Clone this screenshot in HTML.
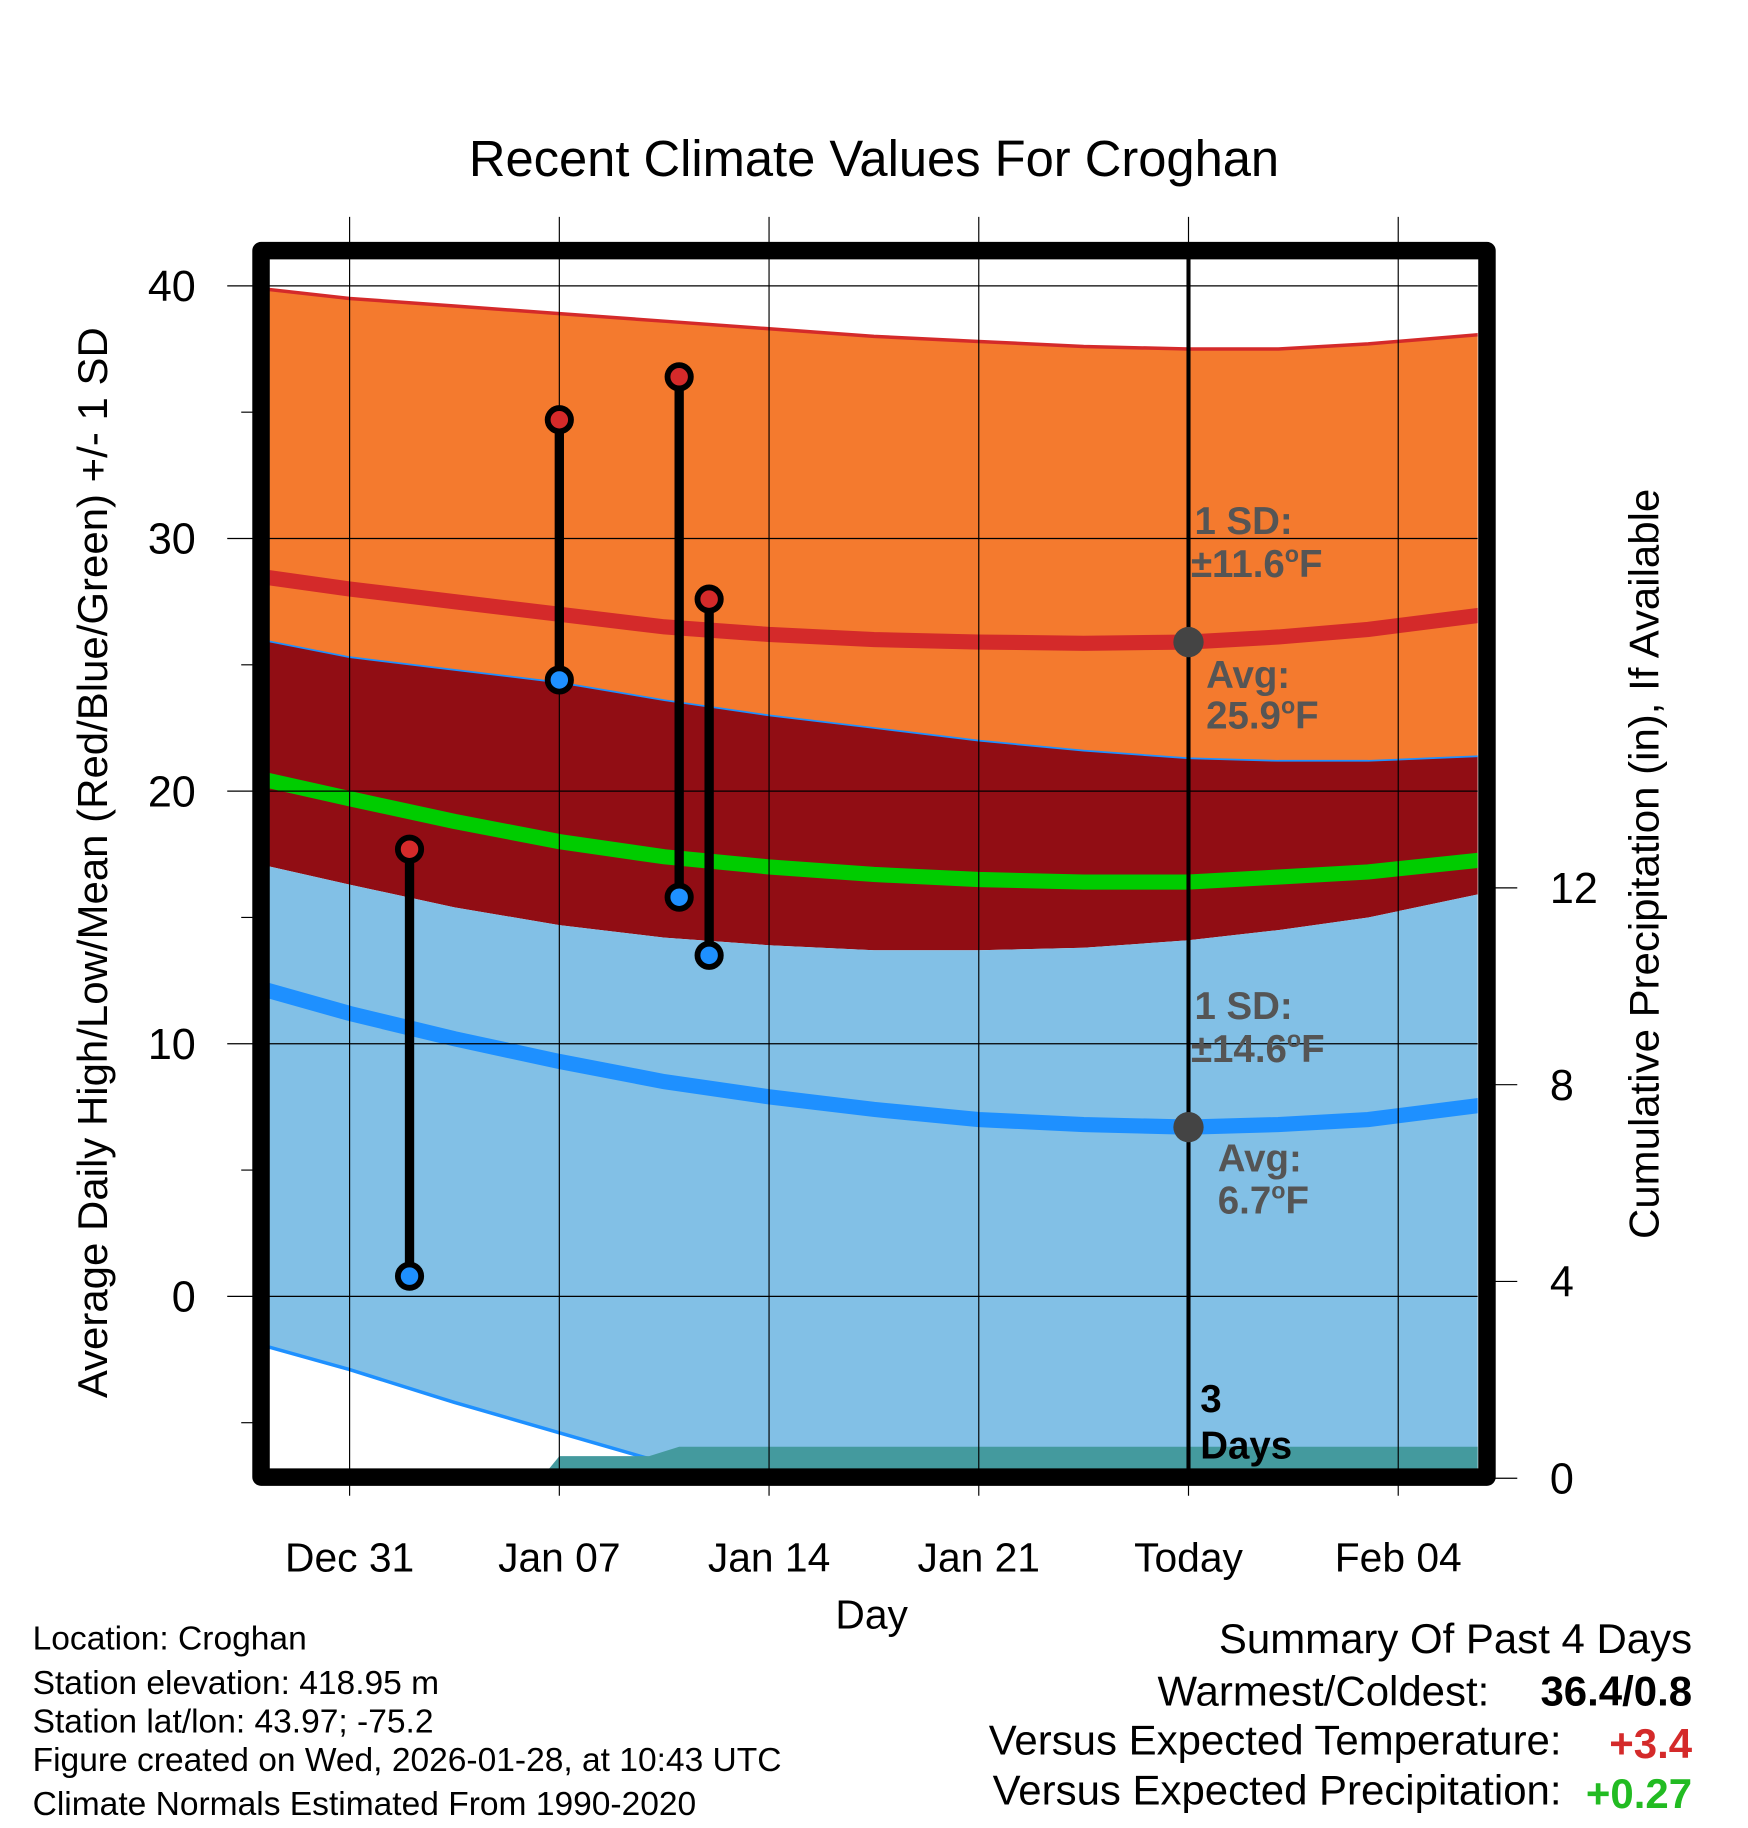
<!DOCTYPE html>
<html><head><meta charset="utf-8"><style>
html,body{margin:0;padding:0;background:#fff;}
svg{display:block;font-family:"Liberation Sans",Arial,sans-serif;}
</style></head><body>
<svg id="chart" width="1748" height="1828" viewBox="0 0 1500 1568" preserveAspectRatio="none" xmlns="http://www.w3.org/2000/svg">
<defs><clipPath id="plotclip"><rect x="231" y="216" width="1037" height="1044"/></clipPath></defs>
<text x="750" y="151" font-size="43.5" text-anchor="middle">Recent Climate Values For Croghan</text>
<g id="bands" clip-path="url(#plotclip)"></g>
<g id="grid"></g>
<g id="marks"></g>
<g id="labels" font-weight="bold" font-size="33" fill="#555">
<text x="1025" y="458">1 SD:</text>
<text x="1022" y="495">±11.6<tspan font-size="20" dy="-13">o</tspan><tspan dy="13">F</tspan></text>
<text x="1035" y="590">Avg:</text>
<text x="1035" y="625">25.9<tspan font-size="20" dy="-13">o</tspan><tspan dy="13">F</tspan></text>
<text x="1025" y="874">1 SD:</text>
<text x="1022" y="911">±14.6<tspan font-size="20" dy="-13">o</tspan><tspan dy="13">F</tspan></text>
<text x="1045" y="1005">Avg:</text>
<text x="1045" y="1041">6.7<tspan font-size="20" dy="-13">o</tspan><tspan dy="13">F</tspan></text>
<text x="1030" y="1211" fill="#000">3</text>
<text x="1030" y="1251" fill="#000">Days</text>
</g>
<rect x="224" y="215" width="1052" height="1052" fill="none" stroke="#000" stroke-width="15" stroke-linejoin="round"/>
<text transform="translate(92,740) rotate(-90)" font-size="36" text-anchor="middle">Average Daily High/Low/Mean (Red/Blue/Green) +/- 1 SD</text>
<text transform="translate(1423,741) rotate(-90)" font-size="36" text-anchor="middle">Cumulative Precipitation (in), If Available</text>
<text x="748" y="1397" font-size="35" text-anchor="middle">Day</text>
<g font-size="28.8">
<text x="28" y="1415">Location: Croghan</text>
<text x="28" y="1453">Station elevation: 418.95 m</text>
<text x="28" y="1486">Station lat/lon: 43.97; -75.2</text>
<text x="28" y="1519">Figure created on Wed, 2026-01-28, at 10:43 UTC</text>
<text x="28" y="1557">Climate Normals Estimated From 1990-2020</text>
</g>
<g font-size="36" text-anchor="end">
<text x="1452" y="1418">Summary Of Past 4 Days</text>
<text x="1278" y="1463">Warmest/Coldest:</text>
<text x="1452" y="1463" font-weight="bold">36.4/0.8</text>
<text x="1340" y="1505">Versus Expected Temperature:</text>
<text x="1452" y="1508" font-weight="bold" fill="#d42a2a">+3.4</text>
<text x="1340" y="1548">Versus Expected Precipitation:</text>
<text x="1452" y="1551" font-weight="bold" fill="#22bb22">+0.27</text>
</g>
</svg>
<script>
const days = [-3, 0, 3.5, 7, 10.5, 14, 17.5, 21, 24.5, 28, 31, 34, 38];
const highUpper = [39.9, 39.5, 39.2, 38.9, 38.6, 38.3, 38.0, 37.8, 37.6, 37.5, 37.5, 37.7, 38.1];
const highAvg = [28.5, 28.0, 27.5, 27.0, 26.5, 26.2, 26.0, 25.9, 25.85, 25.9, 26.1, 26.4, 27.0];
const highLower = [26.0, 25.3, 24.8, 24.3, 23.6, 23.0, 22.5, 22.0, 21.6, 21.3, 21.2, 21.2, 21.4];
const meanAvg = [20.5, 19.7, 18.8, 18.0, 17.4, 17.0, 16.7, 16.5, 16.4, 16.4, 16.6, 16.8, 17.3];
const lowUpper = [17.1, 16.3, 15.4, 14.7, 14.2, 13.9, 13.7, 13.7, 13.8, 14.1, 14.5, 15.0, 16.0];
const lowAvg = [12.2, 11.2, 10.2, 9.3, 8.5, 7.9, 7.4, 7.0, 6.8, 6.7, 6.8, 7.0, 7.6];
const lowLower = [-1.9, -2.9, -4.2, -5.4, -6.6, -7.6, -8.5, -9.2, -9.8, -10, -10, -10, -10];
const precipDays = [-3, 6.4, 7, 10, 11, 38];
const precipVals = [0, 0, 0.45, 0.45, 0.64, 0.64];
const obsDays = [2, 7, 11, 12];
const obsHigh = [17.7, 34.7, 36.4, 27.6];
const obsLow = [0.8, 24.4, 15.8, 13.5];
const xTickDays = [0, 7, 14, 21, 28, 35];
const xTickLabels = ["Dec 31", "Jan 07", "Jan 14", "Jan 21", "Today", "Feb 04"];
const yTicks = [0, 10, 20, 30, 40];
const y2Ticks = [0, 4, 8, 12];
const todayDay = 28;

const NS = "http://www.w3.org/2000/svg";
const X = d => 300 + d * 25.71;
const Y = v => 1112 - v * 21.67;
const Y2 = v => 1268 - v * 42.2;
function mk(tag, attrs, parent) {
  const e = document.createElementNS(NS, tag);
  for (const k in attrs) e.setAttribute(k, attrs[k]);
  parent.appendChild(e);
  return e;
}
function line(arr) { return days.map((d, i) => (i ? "L" : "M") + X(d).toFixed(1) + "," + Y(arr[i]).toFixed(1)).join(""); }
function band(top, bot) {
  let p = line(top);
  for (let i = days.length - 1; i >= 0; i--) p += "L" + X(days[i]).toFixed(1) + "," + Y(bot[i]).toFixed(1);
  return p + "Z";
}
const bands = document.getElementById("bands");
const grid = document.getElementById("grid");
const marks = document.getElementById("marks");

let e;
e = mk("path", {d: band(highUpper, highLower), fill: "#f47a2e"}, bands);
 
e = mk("path", {d: band(highLower, lowUpper), fill: "#910d14"}, bands);
 
e = mk("path", {d: band(lowUpper, lowLower), fill: "#82c0e6"}, bands);
 
e = mk("path", {d: line(highUpper), fill: "none", stroke: "#d42a2a", "stroke-width": 3}, bands);
 
e = mk("path", {d: line(highLower), fill: "none", stroke: "#1e90ff", "stroke-width": 1.5}, bands);
 
e = mk("path", {d: line(lowLower), fill: "none", stroke: "#1e90ff", "stroke-width": 3}, bands);
 
let pp = "M" + X(precipDays[0]) + "," + Y2(0);
precipDays.forEach((d, i) => { pp += "L" + X(d).toFixed(1) + "," + Y2(precipVals[i]).toFixed(1); });
pp += "L" + X(precipDays[precipDays.length - 1]) + "," + Y2(0) + "Z";
e = mk("path", {d: pp, fill: "#449a9e"}, bands);
 
e = mk("path", {d: line(highAvg), fill: "none", stroke: "#d42a2a", "stroke-width": 13}, bands);
 
e = mk("path", {d: line(meanAvg), fill: "none", stroke: "#00cc00", "stroke-width": 13}, bands);
 
e = mk("path", {d: line(lowAvg), fill: "none", stroke: "#1e90ff", "stroke-width": 13}, bands);
 

xTickDays.forEach((d, i) => {
  e = mk("line", {x1: X(d), x2: X(d), y1: 186, y2: 1283, stroke: "#000", "stroke-width": 1}, grid);
   
  e = mk("text", {x: X(d), y: 1348, "font-size": 35, "text-anchor": "middle"}, grid);
  e.textContent = xTickLabels[i];
   
});
yTicks.forEach(v => {
  e = mk("line", {x1: 195, x2: 1268, y1: Y(v), y2: Y(v), stroke: "#000", "stroke-width": 1}, grid);
   
  e = mk("text", {x: 168, y: Y(v) + 13, "font-size": 37, "text-anchor": "end"}, grid);
  e.textContent = v;
   
});
[-5, 5, 15, 25, 35].forEach(v => {
  e = mk("line", {x1: 207, x2: 217, y1: Y(v), y2: Y(v), stroke: "#000", "stroke-width": 1}, grid);
   
});
y2Ticks.forEach(v => {
  e = mk("line", {x1: 1283, x2: 1302, y1: Y2(v), y2: Y2(v), stroke: "#000", "stroke-width": 1}, grid);
   
  e = mk("text", {x: 1330, y: Y2(v) + 13, "font-size": 37}, grid);
  e.textContent = v;
   
});

e = mk("line", {x1: X(todayDay), x2: X(todayDay), y1: 216, y2: 1262, stroke: "#000", "stroke-width": 3.5}, marks);
 
const ti = days.indexOf(todayDay);
e = mk("circle", {cx: X(todayDay), cy: Y(highAvg[ti]), r: 13, fill: "#444"}, marks);
 
e = mk("circle", {cx: X(todayDay), cy: Y(lowAvg[ti]), r: 13, fill: "#444"}, marks);
 

obsDays.forEach((d, i) => {
  e = mk("line", {x1: X(d), x2: X(d), y1: Y(obsHigh[i]), y2: Y(obsLow[i]), stroke: "#000", "stroke-width": 8}, marks);
   
  e = mk("circle", {cx: X(d), cy: Y(obsHigh[i]), r: 10, fill: "#d42a2a", stroke: "#000", "stroke-width": 5}, marks);
   
  e = mk("circle", {cx: X(d), cy: Y(obsLow[i]), r: 10, fill: "#1e90ff", stroke: "#000", "stroke-width": 5}, marks);
   
});
</script>
</body></html>
